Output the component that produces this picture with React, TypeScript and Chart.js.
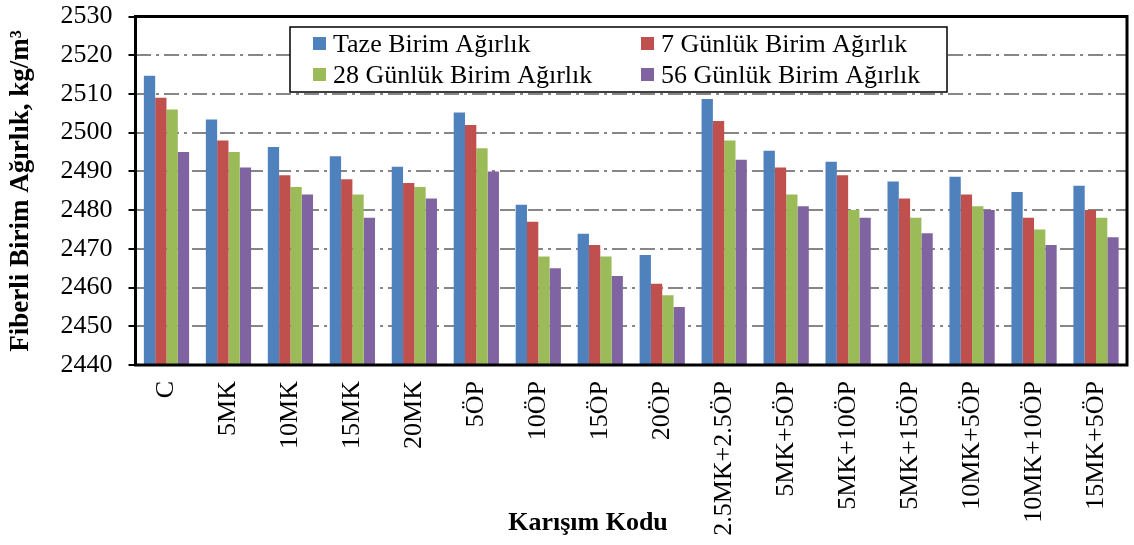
import React, { useEffect, useRef } from "react";
import { Chart, registerables } from "chart.js";

Chart.register(...registerables);

const categories = [
  "C", "5MK", "10MK", "15MK", "20MK", "5ÖP", "10ÖP", "15ÖP", "20ÖP",
  "2.5MK+2.5ÖP", "5MK+5ÖP", "5MK+10ÖP", "5MK+15ÖP", "10MK+5ÖP", "10MK+10ÖP", "15MK+5ÖP",
];

const seriesNames = [
  "Taze Birim Ağırlık",
  "7 Günlük Birim Ağırlık",
  "28 Günlük Birim Ağırlık",
  "56 Günlük Birim Ağırlık",
];

const taze = [2514.7, 2503.4, 2496.3, 2493.9, 2491.2, 2505.2, 2481.4, 2473.9, 2468.4, 2508.7, 2495.3, 2492.5, 2487.4, 2488.6, 2484.7, 2486.3];
const gun7 = [2509, 2498, 2489, 2488, 2487, 2502, 2477, 2471, 2461, 2503, 2491, 2489, 2483, 2484, 2478, 2480];
const gun28 = [2506, 2495, 2486, 2484, 2486, 2496, 2468, 2468, 2458, 2498, 2484, 2480, 2478, 2481, 2475, 2478];
const gun56 = [2495, 2491, 2484, 2478, 2483, 2490, 2465, 2463, 2455, 2493, 2481, 2478, 2474, 2480, 2471, 2473];

const colors = ["#4F81BD", "#C0504D", "#9BBB59", "#8064A2"];

const yMin = 2440;
const yMax = 2530;
const yStep = 10;

const yTitle = "Fiberli Birim Ağırlık, kg/m³";
const xTitle = "Karışım Kodu";

const FONT = "'Liberation Serif', 'Times New Roman', serif";

export default function App() {
  const canvasRef = useRef<HTMLCanvasElement | null>(null);

  useEffect(() => {
    document.body.style.margin = "0";
    const canvas = canvasRef.current;
    if (!canvas) return;

    const framePlugin = {
      id: "frameAndExtras",
      afterDatasetsDraw(chart: any) {
        const { ctx, chartArea } = chart;
        ctx.save();
        ctx.strokeStyle = "#000";
        ctx.lineWidth = 3;
        ctx.strokeRect(chartArea.left, chartArea.top, chartArea.right - chartArea.left, chartArea.bottom - chartArea.top);

        const lx = 290, ly = 27, lw = 657, lh = 65;
        ctx.fillStyle = "#fff";
        ctx.fillRect(lx, ly, lw, lh);
        ctx.lineWidth = 1.5;
        ctx.strokeStyle = "#000";
        ctx.strokeRect(lx, ly, lw, lh);
        ctx.font = `26px ${FONT}`;
        ctx.textBaseline = "alphabetic";
        ctx.textAlign = "left";
        const cols = [313, 641];
        const rows = [52, 83];
        seriesNames.forEach((name, i) => {
          const cx = cols[i % 2];
          const by = rows[Math.floor(i / 2)];
          ctx.fillStyle = colors[i];
          ctx.fillRect(cx, by - 15, 13, 13);
          ctx.fillStyle = "#000";
          ctx.fillText(name, cx + 20, by);
        });

        ctx.font = `bold 26px ${FONT}`;
        ctx.fillStyle = "#000";
        ctx.textAlign = "center";
        ctx.textBaseline = "alphabetic";
        ctx.fillText(xTitle, 588, 530);

        ctx.font = `bold 27px ${FONT}`;
        ctx.translate(21, 191);
        ctx.rotate(-Math.PI / 2);
        ctx.textBaseline = "middle";
        ctx.fillText(yTitle, 0, 0);
        ctx.restore();
      },
    };

    const chart = new Chart(canvas, {
      type: "bar",
      data: {
        labels: categories,
        datasets: [taze, gun7, gun28, gun56].map((d, i) => ({
          label: seriesNames[i],
          data: d,
          backgroundColor: colors[i],
          borderWidth: 0,
          categoryPercentage: 0.73,
          barPercentage: 1,
        })),
      },
      options: {
        animation: false,
        responsive: false,
        maintainAspectRatio: false,
        layout: { padding: { left: 0, right: 7, top: 16.5, bottom: 0 } },
        plugins: {
          legend: { display: false },
          tooltip: { enabled: false },
        },
        scales: {
          x: {
            grid: { display: false, drawTicks: false },
            border: { display: false },
            ticks: {
              color: "#000",
              font: { family: FONT, size: 26 },
              minRotation: 90,
              maxRotation: 90,
              padding: 16,
              autoSkip: false,
            },
            afterFit: (scale: any) => {
              scale.height = 180;
              scale.paddingLeft = 0;
              scale.paddingRight = 0;
            },
          },
          y: {
            min: yMin,
            max: yMax,
            grid: {
              color: "#868686",
              lineWidth: 2,
              drawTicks: true,
              tickLength: 7,
              tickColor: "#000",
              tickWidth: 2,
              tickBorderDash: [],
            },
            border: { display: false, dash: [15, 5, 3, 5] },
            ticks: {
              stepSize: yStep,
              color: "#000",
              font: { family: FONT, size: 26 },
              padding: 16,
              callback: (v: any) => String(v),
            },
            afterFit: (scale: any) => {
              scale.width = 135.5;
              scale.paddingTop = 0;
              scale.paddingBottom = 0;
            },
          },
        },
      },
      plugins: [framePlugin],
    });

    return () => chart.destroy();
  }, []);

  return (
    <div style={{ width: 1134, height: 545, position: "relative" }}>
      <canvas ref={canvasRef} width={1134} height={545} style={{ display: "block" }} />
    </div>
  );
}
